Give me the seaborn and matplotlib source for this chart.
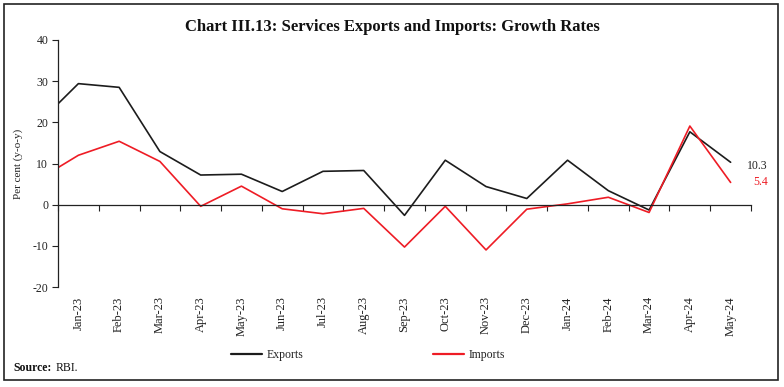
import matplotlib
matplotlib.use("Agg")
import matplotlib.pyplot as plt
import seaborn as sns
import pandas as pd
import numpy as np
from matplotlib.lines import Line2D

months = ["Dec-22", "Jan-23", "Feb-23", "Mar-23", "Apr-23", "May-23", "Jun-23", "Jul-23",
          "Aug-23", "Sep-23", "Oct-23", "Nov-23", "Dec-23", "Jan-24", "Feb-24",
          "Mar-24", "Apr-24", "May-24"]
exports = [19.6, 29.4, 28.5, 12.9, 7.2, 7.4, 3.2, 8.1, 8.3, -2.6, 10.8, 4.4, 1.5,
           10.8, 3.4, -1.3, 17.7, 10.3]
imports = [6.0, 12.0, 15.4, 10.5, -0.4, 4.5, -1.0, -2.2, -0.9, -10.3, -0.4, -11.0,
           -1.1, 0.2, 1.8, -1.9, 19.1, 5.4]
shown_labels = months[1:]
yticks = [40, 30, 20, 10, 0, -10, -20]

sns.set_theme(style="white")
plt.rcParams['font.family'] = ['Liberation Serif', 'DejaVu Serif']

pos = list(range(-1, len(months) - 1))
df = pd.DataFrame({
    "pos": pos * 2,
    "value": exports + imports,
    "series": ["Exports"] * len(months) + ["Imports"] * len(months),
})
colors = {"Exports": "#1c1c1c", "Imports": "#ee1c25"}

fig = plt.figure(figsize=(7.84, 3.87), dpi=100)
ax = fig.add_axes([58 / 784, 1 - 287 / 387, (751 - 58) / 784, (287 - 40) / 387])
sns.lineplot(data=df, x="pos", y="value", hue="series", palette=colors,
             linewidth=1.2, legend=False, ax=ax, clip_on=True)

n = len(shown_labels)
ax.set_xlim(-0.5, n - 0.5)
ax.set_ylim(-20, 40)
ax.set_yticks(yticks)
ax.set_yticklabels([str(v) for v in yticks], fontsize=8.5, color="#222222")
ax.tick_params(axis="y", direction="out", length=4, width=0.8, color="#222222", pad=3, left=True)

ax.set_xticks(range(n))
ax.set_xticks(np.arange(-0.5, n, 1.0), minor=True)
ax.tick_params(axis="x", which="major", length=0, pad=66, labelrotation=90,
               labelsize=9, labelcolor="#222222")
ax.tick_params(axis="x", which="minor", direction="out", length=4, width=0.8,
               color="#222222", bottom=True)
ax.set_xticklabels(shown_labels)
for lab in ax.get_xticklabels():
    lab.set_rotation(90)
    lab.set_va("top")
    lab.set_ha("center")
ax.set_xlabel("")
ax.set_ylabel("Per cent (y-o-y)", fontsize=8, color="#222222", labelpad=7)

for s in ["top", "right"]:
    ax.spines[s].set_visible(False)
ax.spines["left"].set_color("#222222")
ax.spines["left"].set_linewidth(0.9)
ax.spines["bottom"].set_position(("data", 0))
ax.spines["bottom"].set_color("#222222")
ax.spines["bottom"].set_linewidth(0.9)
ax.grid(False)
ax.patch.set_alpha(0)

ax.annotate(f"{exports[-1]}", xy=(n - 1, exports[-1]), xytext=(12, -3),
            textcoords="offset points", fontsize=8.5, color="#222222", va="center")
ax.annotate(f"{imports[-1]}", xy=(n - 1, imports[-1]), xytext=(16, 0),
            textcoords="offset points", fontsize=8.5, color="#ee1c25", va="center")

fig.text(0.5, 1 - 27 / 387, "Chart III.13: Services Exports and Imports: Growth Rates",
         ha="center", va="center", fontsize=12, fontweight="bold", color="#111111")

handles = [Line2D([], [], color=colors["Exports"], lw=1.6),
           Line2D([], [], color=colors["Imports"], lw=1.6)]
leg = fig.legend(handles, ["Exports", "Imports"], loc="center",
                 bbox_to_anchor=(368 / 784, 1 - 355 / 387), ncol=2, frameon=False,
                 fontsize=8.5, handlelength=2.6, columnspacing=11, handletextpad=0.4)
for t in leg.get_texts():
    t.set_color("#222222")

src = fig.text(13 / 784, 1 - 368 / 387, "Source:", fontsize=8.5, fontweight="bold",
               va="center", ha="left", color="#111111")
fig.canvas.draw()
bb = src.get_window_extent()
fig.text((bb.x1 + 4) / 784, 1 - 368 / 387, "RBI.", fontsize=8.5, va="center", ha="left",
         color="#111111")

border = plt.Rectangle((4 / 784, 1 - 380 / 387), (778 - 4) / 784, (380 - 4) / 387,
                       transform=fig.transFigure, fill=False, edgecolor="#222222", lw=1.2)
fig.patches.append(border)

fig.savefig("out.png", dpi=100)
